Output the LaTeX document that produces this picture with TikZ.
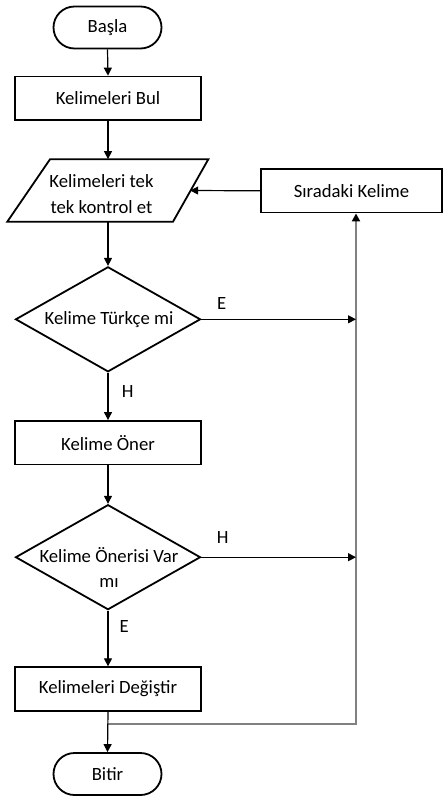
\documentclass[tikz,border=0pt]{standalone}
\usepackage{fontspec}
\setmainfont{Carlito}
\usetikzlibrary{arrows.meta,shapes.geometric}
\begin{document}
\begin{tikzpicture}[x=1pt,y=-1pt,
  every node/.style={font=\fontsize{18.7}{25.5}\selectfont, text=black},
  box/.style={draw, line width=1.8pt, minimum width=186pt, minimum height=43.5pt, inner sep=0pt},
  term/.style={draw, line width=1.8pt, rounded corners=21pt, minimum width=108pt, minimum height=42pt, inner sep=0pt},
  dec/.style={draw, diamond, line width=1.8pt, minimum width=185pt, minimum height=105pt, inner sep=0pt},
  arr/.style={line width=1.2pt, -{Triangle[length=8pt,width=8pt]}},
  ret/.style={line width=2pt, draw=gray, -{Triangle[length=8pt,width=8pt,color=black]}},
  lbl/.style={inner sep=0pt}]
\useasboundingbox (0,0) rectangle (444,796);
% nodes
\node[term] (start) at (107.5,27.5) {Başla};
\node[box] (find) at (108,98.3) {Kelimeleri Bul};
\draw[line width=1.8pt] (50,159.3) -- (208.3,159.3) -- (173,221.7) -- (7.3,221.7) -- cycle;
\node[inner sep=0pt, minimum width=164pt, minimum height=62.4pt] (check) at (108,190.5) {};
\node[align=center, inner sep=0pt] (checktext) at (101.5,194) {Kelimeleri tek\\tek kontrol et};
\node[box, minimum width=181pt] (next) at (351.5,190.8) {Sıradaki Kelime};
\node[dec] (d1) at (108,319.3) {};
\node (d1text) at (109,319.3) {Kelime Türkçe mi};
\node[box] (suggest) at (108,442.7) {Kelime Öner};
\node[dec] (d2) at (108,557.2) {};
\node[align=center, inner sep=0pt] (d2text) at (109,567.5) {Kelime Önerisi Var\\mı};
\node[box] (replace) at (108,689) {Kelimeleri Değiştir};
\node[term] (end) at (107.5,774) {Bitir};
% labels
\node[lbl] (e1) at (221.7,303.3) {E};
\node[lbl] (h1) at (127.7,391.7) {H};
\node[lbl] (h2) at (222.7,537.3) {H};
\node[lbl] (e2) at (124.3,626.7) {E};
% connectors
\coordinate (j) at (108,724);
\coordinate (c) at (356,724);
\draw[ret] (j) -- (c) -- (c |- next.south);
\draw[arr] (start.south) -- (find.north);
\draw[arr] (find.south) -- (check.north);
\draw[arr] (check.south) -- (d1.north);
\draw[arr] (d1.south) -- (suggest.north);
\draw[arr] (suggest.south) -- (d2.north);
\draw[arr] (d2.south) -- (replace.north);
\draw[arr] (replace.south) -- (end.north);
\draw[arr] (d1.east) -- (d1.east -| c);
\draw[arr] (d2.east) -- (d2.east -| c);
\draw[arr] (next.west) -- (check.east);
\end{tikzpicture}
\end{document}
